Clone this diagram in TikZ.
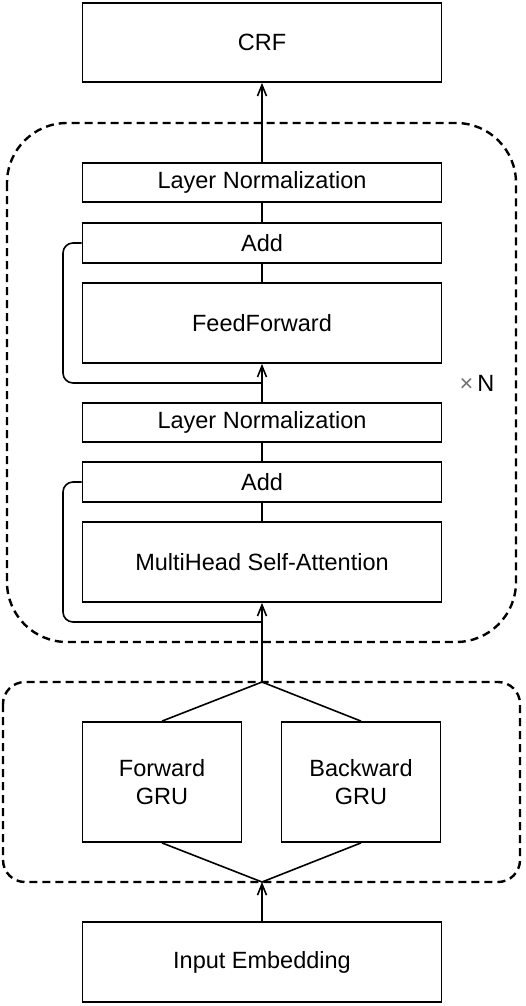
\documentclass[tikz,border=0pt]{standalone}
\usepackage{fontspec}
\setmainfont{Liberation Sans}
\usetikzlibrary{arrows.meta}
\begin{document}
\begin{tikzpicture}[x=1pt,y=-1pt,
  box/.style={draw, line width=1.8pt, minimum width=359pt, inner sep=0pt, align=center,
    font=\fontsize{23.5}{28}\selectfont},
  conn/.style={line width=1.6pt},
  arr/.style={conn, -{Straight Barb[length=11pt,width=9pt,line width=1.6pt]}},
  group/.style={line width=2.4pt, dash pattern=on 8pt off 5pt}]
\useasboundingbox (0,0) rectangle (526,1006);
% dashed groups
\draw[group, rounded corners=60pt] (7,123) rectangle (516,642);
\draw[group, rounded corners=22pt] (3,682) rectangle (520,882);
% boxes
\node[box, minimum height=79pt] (crf) at (262,42.5) {CRF};
\node[box, minimum height=39pt] (ln1) at (262,182.5) {Layer Normalization};
\node[box, minimum height=40pt] (add1) at (262,243) {Add};
\node[box, minimum height=80pt] (ff) at (262,323) {FeedForward};
\node[box, minimum height=39pt] (ln2) at (262,422.5) {Layer Normalization};
\node[box, minimum height=40pt] (add2) at (262,482) {Add};
\node[box, minimum height=80pt] (mhsa) at (262,562) {MultiHead Self-Attention};
\node[box, minimum width=159pt, minimum height=120pt] (fgru) at (162,782) {Forward\\GRU};
\node[box, minimum width=159pt, minimum height=120pt] (bgru) at (361,782) {Backward\\GRU};
\node[box, minimum height=80pt] (inp) at (262,962) {Input Embedding};
\node[font=\fontsize{23.5}{28}\selectfont] (times) at (477,383) {\textcolor{black!55}{×}\,N};
% junctions
\coordinate (mtop) at (262,682);
\coordinate (mbot) at (262,882);
\coordinate (r1) at (262,383);
\coordinate (r2) at (262,622);
\coordinate (l1) at (63,243);
\coordinate (l2) at (63,482);
% connectors
\draw[arr] (inp) -- (mbot);
\draw[conn] (fgru.south) -- (mbot) -- (bgru.south);
\draw[conn] (fgru.north) -- (mtop) -- (bgru.north);
\draw[arr] (mtop) -- (mhsa);
\draw[conn] (mhsa) -- (add2);
\draw[conn] (add2) -- (ln2);
\draw[arr] (ln2) -- (ff);
\draw[conn] (ff) -- (add1);
\draw[conn] (add1) -- (ln1);
\draw[arr] (ln1) -- (crf);
\draw[conn, rounded corners=10pt] (add2.west) -- (l2) |- (r2);
\draw[conn, rounded corners=10pt] (add1.west) -- (l1) |- (r1);
\end{tikzpicture}
\end{document}
